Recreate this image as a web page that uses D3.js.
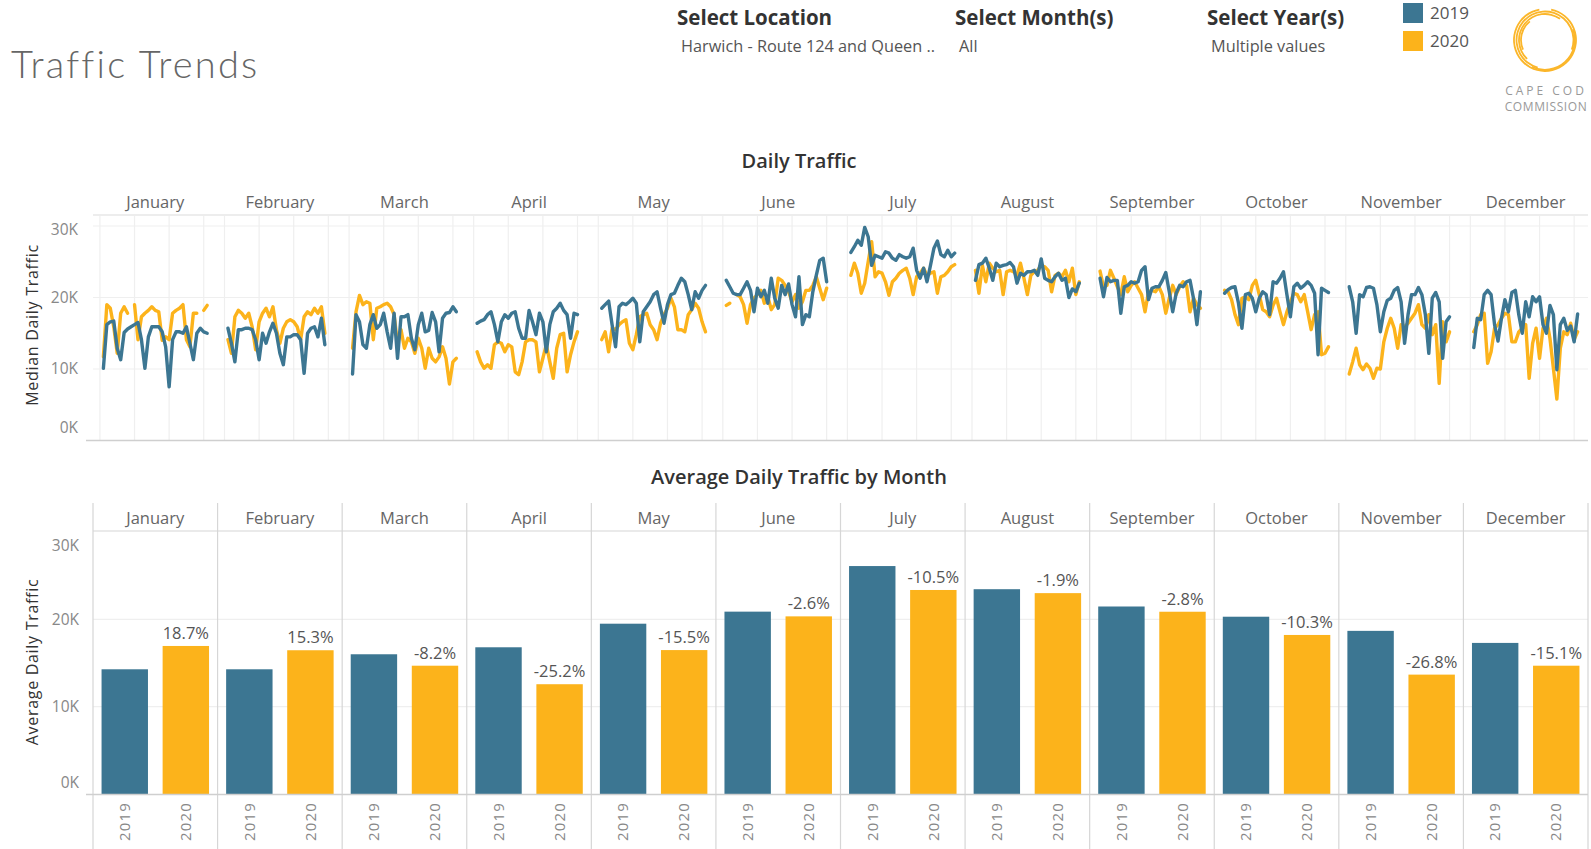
<!DOCTYPE html>
<html>
<head>
<meta charset="utf-8">
<script src="https://cdn.jsdelivr.net/npm/d3@7"></script>
<style>
  body { margin: 0; background: #fff; }
  svg { display: block; font-family: "Open Sans", "DejaVu Sans", sans-serif; }
</style>
</head>
<body>
<svg id="chart" width="1591" height="849"></svg>
<script>
// Datos
var months = ["January", "February", "March", "April", "May", "June", "July", "August", "September", "October", "November", "December"];
var years = ["2019", "2020"];
var yTicks = [0, 10, 20, 30];        // miles (K)
var dayTicks = [0, 10, 20, 30];

// mediana de tráfico diario, en miles, por mes (día 1..n)
var daily2019 = [
  [10.1, 16.2, 16.6, 16.7, 12.9, 11.3, 15.1, 15.6, 15.9, 16.2, 16.5, 14.1, 10.1, 14.5, 15.9, 15.9, 15.9, 15.2, 13.1, 7.5, 14.1, 15.2, 15.2, 15.0, 15.9, 13.6, 11.3, 15.0, 15.7, 15.2, 15.0],
  [15.7, 13.6, 11.0, 15.5, 15.5, 15.7, 15.7, 15.5, 14.1, 11.3, 15.0, 13.6, 15.2, 16.4, 15.0, 12.2, 10.6, 14.5, 14.5, 14.8, 14.8, 14.1, 9.4, 15.0, 15.7, 15.9, 14.5, 17.1, 13.4],
  [9.3, 17.6, 16.6, 13.4, 12.9, 16.2, 17.6, 15.7, 16.2, 17.8, 15.2, 12.9, 17.8, 11.5, 17.3, 17.3, 17.6, 14.3, 12.7, 16.2, 17.8, 15.2, 15.4, 17.9, 16.6, 12.4, 17.1, 17.8, 17.9, 18.7, 18.0],
  [16.4, 16.7, 16.9, 17.6, 18.0, 16.2, 13.8, 16.6, 17.6, 17.1, 17.8, 18.0, 15.7, 14.3, 14.3, 18.2, 16.6, 14.8, 17.8, 16.6, 12.4, 16.2, 18.0, 18.5, 19.2, 18.2, 17.6, 14.3, 17.8, 17.6],
  [18.5, 19.0, 19.5, 16.2, 13.1, 18.7, 19.2, 19.0, 19.4, 19.9, 19.2, 13.8, 18.0, 18.7, 19.4, 20.4, 20.8, 18.5, 16.4, 19.0, 20.4, 20.6, 21.7, 22.7, 22.2, 20.4, 18.3, 20.8, 19.9, 21.0, 21.7],
  [22.4, 21.5, 20.6, 20.4, 20.4, 21.3, 22.2, 21.0, 18.0, 21.3, 20.1, 21.0, 19.2, 22.7, 19.9, 18.5, 21.7, 20.4, 21.9, 19.0, 17.3, 22.9, 16.2, 17.6, 17.3, 20.8, 23.1, 25.2, 25.5, 22.2],
  [26.3, 27.1, 28.0, 27.3, 29.8, 28.5, 24.5, 25.9, 25.7, 25.5, 26.4, 26.2, 25.5, 25.2, 26.0, 25.7, 25.5, 25.7, 26.9, 23.8, 22.7, 24.1, 22.2, 24.5, 26.9, 27.9, 26.0, 25.7, 26.6, 25.7, 26.2],
  [22.4, 24.6, 24.8, 25.5, 24.1, 22.4, 24.8, 24.3, 24.5, 24.6, 24.9, 24.3, 22.0, 23.4, 23.1, 23.6, 23.6, 23.8, 23.1, 25.4, 22.7, 22.4, 22.2, 22.9, 23.4, 22.4, 22.7, 20.0, 21.2, 20.8, 22.0],
  [22.7, 20.1, 22.8, 22.2, 22.4, 22.4, 17.8, 21.5, 21.7, 22.2, 22.0, 22.2, 23.8, 24.3, 19.7, 21.3, 21.5, 21.5, 22.4, 23.5, 20.8, 18.0, 20.6, 21.7, 21.5, 22.2, 22.4, 19.9, 16.2, 20.8],
  [20.6, 21.1, 21.4, 21.5, 19.2, 15.7, 20.4, 20.6, 19.9, 18.0, 19.9, 20.8, 20.4, 17.6, 22.2, 22.0, 22.7, 23.6, 20.4, 17.3, 21.5, 22.0, 21.3, 21.7, 22.2, 21.7, 20.6, 12.0, 21.3, 21.0, 20.7],
  [21.5, 19.4, 15.0, 20.4, 20.1, 21.4, 21.5, 21.3, 19.0, 15.2, 18.0, 19.6, 19.9, 21.0, 21.4, 19.4, 13.6, 17.6, 20.4, 20.4, 21.4, 20.4, 17.6, 12.2, 19.9, 20.7, 19.4, 11.5, 16.6, 17.3],
  [13.0, 17.1, 16.9, 20.4, 21.0, 20.4, 16.2, 13.9, 17.1, 19.7, 18.0, 20.7, 21.0, 17.6, 15.0, 19.4, 17.3, 20.1, 19.4, 20.1, 16.2, 15.0, 18.9, 17.6, 9.9, 16.2, 17.1, 15.4, 16.0, 13.8, 17.7]
];
var daily2020 = [
  [11.7, 19.0, 18.5, 15.9, 12.2, 17.8, 18.7, 17.8, null, 19.0, 14.1, 17.3, 17.8, 18.2, 18.7, 18.2, 18.0, 14.0, 14.5, 14.1, 17.8, 18.2, 18.5, 19.0, 14.1, 13.1, 17.8, 17.8, null, 18.2, 18.9],
  [14.1, 12.2, 17.3, 18.2, 17.8, 17.1, 17.8, 15.9, 12.7, 16.6, 17.8, 18.5, 17.3, 18.7, 15.5, 13.6, 15.7, 16.6, 16.9, 16.6, 15.9, 14.1, 17.3, 18.0, 17.6, 18.5, 17.8, 18.7, 15.0],
  [12.9, 18.0, 20.3, 19.0, 19.4, 19.2, 14.1, 18.5, 18.7, 19.0, 19.2, 18.7, 17.6, 13.5, 15.5, 12.9, 14.3, 13.8, 12.2, 14.3, 12.9, 10.1, 12.9, 11.5, 11.0, 11.7, 13.1, 11.5, 7.9, 11.0, 11.5],
  [12.4, 11.0, 10.1, 10.6, 10.1, 13.4, 13.8, 13.6, 12.4, 13.4, 13.1, 9.6, 9.2, 11.0, 13.8, 14.1, 14.1, 13.8, 9.6, 11.5, 13.4, 11.0, 8.7, 12.9, 14.8, 15.0, 9.6, 12.0, 13.8, 15.2],
  [14.1, 15.2, 12.4, 15.7, 15.5, 16.2, 16.6, 16.9, 13.6, 12.7, 14.8, 17.3, 17.6, 17.8, 16.2, 15.5, 14.1, 16.4, 17.6, 18.5, 19.9, 18.7, 15.5, 15.5, 15.2, 17.6, 18.3, 19.2, 18.5, 16.6, 15.2],
  [18.9, 19.2, null, 20.4, 20.1, 19.0, 16.4, 19.0, 19.9, 20.4, 21.0, 19.2, 20.1, 18.3, 19.0, 22.7, 22.4, 21.7, 20.8, 19.4, 20.4, 18.5, 19.4, 21.0, 21.0, 21.7, 22.9, 21.3, 19.7, 21.3],
  [23.1, 24.8, 23.4, 20.6, 22.0, 25.0, 27.8, 22.9, 23.6, 23.4, 22.2, 20.3, 22.2, 22.7, 23.4, 23.8, 24.1, 22.7, 20.4, 22.9, 23.4, 24.1, 23.1, 23.4, 23.6, 20.6, 22.9, 23.1, 23.6, 24.3, 24.6],
  [23.8, 20.6, 24.5, 22.2, 24.8, 24.1, 23.6, 23.8, 20.4, 23.6, 23.8, 23.6, 23.1, 24.8, 22.7, 20.4, 23.1, 23.6, 23.8, 24.5, 24.3, 23.8, 20.8, 23.1, 23.4, 22.9, 23.8, 22.2, 24.1, 20.4, 22.2],
  [23.7, 21.5, 21.7, 23.8, 22.7, 21.5, 20.4, 22.9, 20.8, 21.7, 22.2, 21.3, 20.4, 18.0, 20.8, 21.0, 20.8, 21.5, 20.4, 17.8, 19.9, 21.7, 20.4, 21.5, 22.2, 21.7, 18.0, 19.9, 19.0, 18.5],
  [21.0, 20.8, 19.7, 17.6, 16.2, 19.9, 20.1, 19.7, 21.7, 22.4, 20.4, 18.3, 18.0, 17.3, 18.9, 19.9, 18.0, 16.2, 18.0, 19.4, 20.6, 20.4, 19.4, 20.4, 18.0, 15.5, 17.6, 18.0, 12.0, 12.2, 13.1],
  [9.3, 11.0, 12.9, 10.6, 9.9, 10.7, 10.1, 8.7, 10.1, 10.0, 13.8, 15.7, 17.1, 15.7, 12.9, 16.2, 15.9, 16.4, 17.1, 17.8, 19.0, 16.2, 15.7, 17.6, 14.8, 16.2, 8.0, 16.6, 13.8, 15.2],
  [15.2, 16.2, 17.6, 17.8, 10.8, 12.4, 15.7, 16.2, 17.1, 17.8, 17.6, 13.8, 13.8, 15.2, 15.7, 16.2, 8.7, 13.6, 15.7, 11.5, 15.7, 17.1, 14.3, 10.1, 5.8, 12.9, 15.2, 14.8, 16.4, 14.1, 15.2]
];

// promedio de tráfico diario por mes
var avg2019 = [14280, 14280, 16000, 16800, 19500, 20880, 26100, 23450, 21470, 20300, 18680, 17300];
var avg2020 = [16950, 16460, 14690, 12570, 16480, 20340, 23360, 23000, 20870, 18210, 13670, 14690];
var pctChange = ["18.7%", "15.3%", "-8.2%", "-25.2%", "-15.5%", "-2.6%", "-10.5%", "-1.9%", "-2.8%", "-10.3%", "-26.8%", "-15.1%"];

var colors = {"2019": "#3c7692", "2020": "#fcb31b"};

var svg = d3.select("#chart");
var left = 93, right = 1588;

// Escala de meses compartida por ambos paneles
var x = d3.scaleBand().domain(months).range([left, right]);
var pw = x.bandwidth();

// ---------- Encabezado ----------
svg.append("text")
   .attr("x", 11).attr("y", 78)
   .style("font-family", "Lato, 'Open Sans', sans-serif")
   .style("font-weight", 300)
   .style("font-size", "38px")
   .style("letter-spacing", "2.2px")
   .style("fill", "#666")
   .text("Traffic Trends");

var filtros = [
  {t: "Select Location", v: "Harwich - Route 124 and Queen ..", x: 677},
  {t: "Select Month(s)", v: "All", x: 955},
  {t: "Select Year(s)", v: "Multiple values", x: 1207}
];
filtros.forEach(function(f) {
    svg.append("text").attr("x", f.x).attr("y", 25)
       .style("font-size", "20.5px").style("font-weight", 700).style("fill", "#333")
       .text(f.t);
    svg.append("text").attr("x", f.x + 4).attr("y", 52)
       .style("font-size", "16.3px").style("fill", "#555")
       .text(f.v);
});

// leyenda
years.forEach(function(yr, i) {
    svg.append("rect").attr("x", 1403).attr("y", 3 + i * 28)
       .attr("width", 20).attr("height", 20).attr("fill", colors[yr]);
    svg.append("text").attr("x", 1430).attr("y", 19 + i * 28)
       .style("font-size", "17px").style("fill", "#555").text(yr);
});

// logo
var logo = svg.append("g").attr("transform", "translate(1545,40)");
var arco = d3.arc();
[[31, 0.2, 6.1], [28.5, 3.4, 8.2], [26, 3.9, 6.9], [29.8, 1.2, 3.6], [24, 4.3, 5.6]].forEach(function(a) {
    logo.append("path")
        .attr("d", arco({innerRadius: a[0] - 0.9, outerRadius: a[0] + 0.9, startAngle: a[1], endAngle: a[2]}))
        .attr("fill", "#fbb62a");
});
svg.append("text").attr("x", 1546).attr("y", 95).attr("text-anchor", "middle")
   .style("font-size", "12px").style("letter-spacing", "3px").style("fill", "#999").text("CAPE COD");
svg.append("text").attr("x", 1546).attr("y", 111).attr("text-anchor", "middle")
   .style("font-size", "12px").style("letter-spacing", "0.6px").style("fill", "#999").text("COMMISSION");

// ---------- Panel superior: Daily Traffic ----------
var yLine = d3.scaleLinear().domain([0, 30]).range([440.5, 226]);
var xDay = d3.scaleLinear().domain([-2, 34]).range([0, pw]);

svg.append("text").attr("x", 799).attr("y", 168).attr("text-anchor", "middle")
   .style("font-size", "20px").style("font-weight", 600).style("fill", "#333").text("Daily Traffic");

var top1 = svg.append("g");

// rejilla horizontal
top1.selectAll(".hg").data(yTicks.slice(1)).enter().append("line")
    .attr("x1", left).attr("x2", right)
    .attr("y1", function(d) { return yLine(d); }).attr("y2", function(d) { return yLine(d); })
    .attr("stroke", "#efefef").attr("stroke-width", 1.2);

// encabezados de mes
top1.selectAll(".mh").data(months).enter().append("text")
    .attr("x", function(d) { return x(d) + pw / 2; })
    .attr("y", 208)
    .attr("text-anchor", "middle")
    .style("font-size", "16.5px").style("fill", "#666")
    .text(function(d) { return d; });

top1.append("line").attr("x1", left).attr("x2", right).attr("y1", 215).attr("y2", 215)
    .attr("stroke", "#dcdcdc").attr("stroke-width", 1.2);

var linea = d3.line()
    .defined(function(d) { return d.v != null; })
    .x(function(d) { return xDay(d.day); })
    .y(function(d) { return yLine(d.v); });

months.forEach(function(m, i) {
    var g = top1.append("g").attr("transform", "translate(" + x(m) + ",0)");
    g.selectAll(".vg").data(dayTicks).enter().append("line")
     .attr("x1", function(d) { return xDay(d); }).attr("x2", function(d) { return xDay(d); })
     .attr("y1", 216).attr("y2", 440)
     .attr("stroke", "#efefef").attr("stroke-width", 1.2);

    [["2020", daily2020[i]], ["2019", daily2019[i]]].forEach(function(s) {
        var pts = s[1].map(function(v, j) { return {day: j + 1, v: v}; });
        g.append("path").datum(pts)
         .attr("fill", "none")
         .attr("stroke", colors[s[0]])
         .attr("stroke-width", 3.4)
         .attr("stroke-linejoin", "round")
         .attr("stroke-linecap", "round")
         .attr("d", linea);
    });
});

top1.append("line").attr("x1", 86).attr("x2", right).attr("y1", 440.5).attr("y2", 440.5)
    .attr("stroke", "#cfcfcf").attr("stroke-width", 1.5);

var ejeY1 = top1.append("g").attr("transform", "translate(" + (left - 12) + ",0)")
    .call(d3.axisLeft(yLine).tickValues(yTicks).tickSize(0).tickFormat(function(d) { return d + "K"; }));
ejeY1.select(".domain").remove();
ejeY1.selectAll("text")
     .style("font-size", "15.5px").style("fill", "#888").style("font-family", "'Open Sans', sans-serif")
     .attr("dy", function(d) { return d === 0 ? "-0.5em" : (d === 30 ? "0.55em" : "0.32em"); });

svg.append("text")
   .attr("transform", "translate(38,325) rotate(-90)")
   .attr("text-anchor", "middle")
   .style("font-size", "16px").style("letter-spacing", "0.7px").style("fill", "#333")
   .text("Median Daily Traffic");

// ---------- Panel inferior: Average Daily Traffic by Month ----------
var yBar = d3.scaleLinear().domain([0, 30000]).range([794, 532]);
var xYear = d3.scaleBand().domain(years).range([0, pw]).paddingInner(0.24).paddingOuter(0.14);

svg.append("text").attr("x", 799).attr("y", 484).attr("text-anchor", "middle")
   .style("font-size", "20px").style("font-weight", 600).style("fill", "#333")
   .text("Average Daily Traffic by Month");

var bot = svg.append("g");

bot.selectAll(".hg").data([10000, 20000]).enter().append("line")
   .attr("x1", left).attr("x2", right)
   .attr("y1", function(d) { return yBar(d); }).attr("y2", function(d) { return yBar(d); })
   .attr("stroke", "#efefef").attr("stroke-width", 1.2);

bot.selectAll(".mh").data(months).enter().append("text")
   .attr("x", function(d) { return x(d) + pw / 2; })
   .attr("y", 524)
   .attr("text-anchor", "middle")
   .style("font-size", "16.5px").style("fill", "#666")
   .text(function(d) { return d; });

bot.append("line").attr("x1", left).attr("x2", right).attr("y1", 531).attr("y2", 531)
   .attr("stroke", "#d6d6d6").attr("stroke-width", 1.2);

// separadores de mes
var cortes = months.map(function(m) { return x(m); }).concat([right]);
bot.selectAll(".sep").data(cortes).enter().append("line")
   .attr("x1", function(d) { return d; }).attr("x2", function(d) { return d; })
   .attr("y1", 503).attr("y2", 849)
   .attr("stroke", "#d6d6d6").attr("stroke-width", 1.2);

var barras = [];
months.forEach(function(m, i) {
    barras.push({mes: m, anio: "2019", valor: avg2019[i], etiqueta: null});
    barras.push({mes: m, anio: "2020", valor: avg2020[i], etiqueta: pctChange[i]});
});

bot.selectAll(".bar").data(barras).enter().append("rect")
   .attr("x", function(d) { return x(d.mes) + xYear(d.anio); })
   .attr("y", function(d) { return yBar(d.valor); })
   .attr("width", xYear.bandwidth())
   .attr("height", function(d) { return yBar(0) - yBar(d.valor); })
   .attr("fill", function(d) { return colors[d.anio]; });

bot.selectAll(".lbl").data(barras.filter(function(d) { return d.etiqueta; })).enter().append("text")
   .attr("x", function(d) { return x(d.mes) + xYear(d.anio) + xYear.bandwidth() / 2; })
   .attr("y", function(d) { return yBar(d.valor) - 7; })
   .attr("text-anchor", "middle")
   .style("font-size", "16.5px").style("fill", "#555")
   .text(function(d) { return d.etiqueta; });

bot.append("line").attr("x1", 86).attr("x2", right).attr("y1", 794.5).attr("y2", 794.5)
   .attr("stroke", "#cfcfcf").attr("stroke-width", 1.5);

// etiquetas de año rotadas
bot.selectAll(".yr").data(barras).enter().append("text")
   .attr("transform", function(d) {
       var cx = x(d.mes) + xYear(d.anio) + xYear.bandwidth() / 2;
       return "translate(" + cx + ",802) rotate(-90)";
   })
   .attr("dy", "0.35em")
   .attr("text-anchor", "end")
   .style("font-size", "15px").style("letter-spacing", "1.2px").style("fill", "#888")
   .text(function(d) { return d.anio; });

var ejeY2 = bot.append("g").attr("transform", "translate(" + (left - 11) + ",0)")
    .call(d3.axisLeft(yBar).tickValues(yTicks.map(function(d) { return d * 1000; })).tickSize(0)
            .tickFormat(function(d) { return (d / 1000) + "K"; }));
ejeY2.select(".domain").remove();
ejeY2.selectAll("text")
     .style("font-size", "15.5px").style("fill", "#888").style("font-family", "'Open Sans', sans-serif")
     .attr("dy", function(d) { return d === 0 ? "-0.45em" : (d === 30000 ? "1.2em" : "0.32em"); });

svg.append("text")
   .attr("transform", "translate(38,662) rotate(-90)")
   .attr("text-anchor", "middle")
   .style("font-size", "16px").style("letter-spacing", "0.7px").style("fill", "#333")
   .text("Average Daily Traffic");
</script>
</body>
</html>
